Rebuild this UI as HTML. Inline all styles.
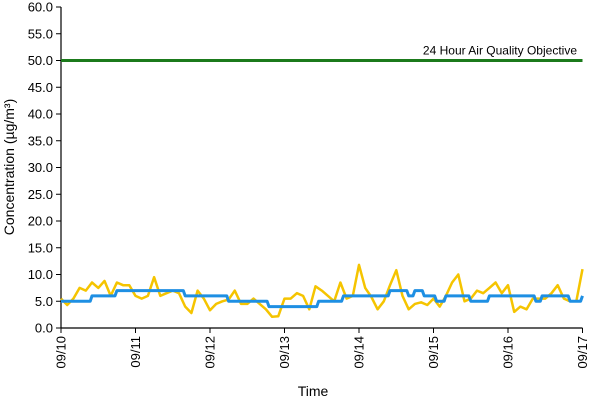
<!DOCTYPE html>
<html><head><meta charset="utf-8"><style>
body{margin:0;background:#fff;}
svg{display:block;font-family:"Liberation Sans",Arial,sans-serif;}
</style></head><body>
<svg id="chart" width="600" height="400"></svg>
<script>
const dayLabels=["09/10","09/11","09/12","09/13","09/14","09/15","09/16","09/17"];
const yTicks=[0,5,10,15,20,25,30,35,40,45,50,55,60];
const objectiveValue=50;
const hourlyStep=2;
const hourlyValues=[5.5,4.3,5.5,7.5,7,8.5,7.5,8.8,6,8.5,8,8,6,5.5,6,9.5,6,6.5,7,6.5,4,2.8,7,5.5,3.3,4.5,5,5.3,7,4.5,4.5,5.5,4.5,3.5,2.1,2.2,5.5,5.5,6.5,6,3.5,7.8,7,6,5,8.5,5.5,6,11.8,7.5,5.8,3.5,5,8,10.8,6,3.5,4.5,4.8,4.3,5.5,4,6,8.5,10,5,5.5,7,6.5,7.5,8.5,6.5,8,3,4,3.5,5.5,5.5,5.5,6.5,8,5.5,5,5,11];
const avgStarts=[0,10,18,40,54,67,83,91,106,112,114,117,121,124,132,138,153,155,164,168];
const avgValues=[5,6,7,6,5,4,5,6,7,6,7,6,5,6,5,6,5,6,5,6];
const NS="http://www.w3.org/2000/svg";
const svg=document.getElementById('chart');
const L=61,R=582.5,T=7,B=328,totalH=168;
const xH=h=>L+(R-L)*h/totalH;
const yV=v=>B-(B-T)*v/60;
function mk(t,a){const e=document.createElementNS(NS,t);for(const k in a)e.setAttribute(k,a[k]);svg.appendChild(e);return e;}
// y ticks + labels
yTicks.forEach(v=>{
 const t=mk('line',{x1:L-5,x2:L,y1:yV(v),y2:yV(v),stroke:'#000','stroke-width':1});
 
 
 const tx=mk('text',{x:L-8,y:yV(v)+4.5,'text-anchor':'end','font-size':13,fill:'#000'});
 tx.textContent=v.toFixed(1);
 
 
});
// x ticks + labels
dayLabels.forEach((d,i)=>{
 const x=xH(i*24);
 const t=mk('line',{x1:x,x2:x,y1:B,y2:B+5,stroke:'#000','stroke-width':1});
 
 
 const tx=mk('text',{x:0,y:0,'text-anchor':'end','font-size':13,fill:'#000',transform:`translate(${x+4.5},${B+8}) rotate(-90)`});
 tx.textContent=d;
 
 
});
// axes
const ya=mk('line',{x1:L,x2:L,y1:T,y2:B,stroke:'#000','stroke-width':1.2});


const xa=mk('line',{x1:L,x2:R,y1:B,y2:B,stroke:'#000','stroke-width':1.2});


// objective line
const ob=mk('line',{x1:L,x2:R,y1:yV(objectiveValue),y2:yV(objectiveValue),stroke:'#1b7a1b','stroke-width':3});


const obt=mk('text',{x:577,y:yV(objectiveValue)-6,'text-anchor':'end','font-size':12,fill:'#000'});
obt.textContent='24 Hour Air Quality Objective';


// hourly series
const hp=hourlyValues.map((v,i)=>`${xH(i*hourlyStep).toFixed(1)},${yV(v).toFixed(1)}`).join(' ');
const hl=mk('polyline',{points:hp,fill:'none',stroke:'#f5c400','stroke-width':2.5,'stroke-linejoin':'round'});


// rolling average step series
let ap=[];
avgStarts.forEach((s,i)=>{
 const e=i<avgStarts.length-1?avgStarts[i+1]:totalH;
 ap.push(`${xH(s).toFixed(1)},${yV(avgValues[i]).toFixed(1)}`);
 ap.push(`${xH(Math.max(s,e-0.6)).toFixed(1)},${yV(avgValues[i]).toFixed(1)}`);
});
const al=mk('polyline',{points:ap.join(' '),fill:'none',stroke:'#1e8fe3','stroke-width':3,'stroke-linejoin':'round'});


// titles
const yt=mk('text',{x:0,y:0,'text-anchor':'middle','font-size':14,fill:'#000',transform:'translate(14,167) rotate(-90)'});
yt.textContent='Concentration (µg/m³)';


const xt=mk('text',{x:313,y:396,'text-anchor':'middle','font-size':14,fill:'#000'});
xt.textContent='Time';


</script>
</body></html>
